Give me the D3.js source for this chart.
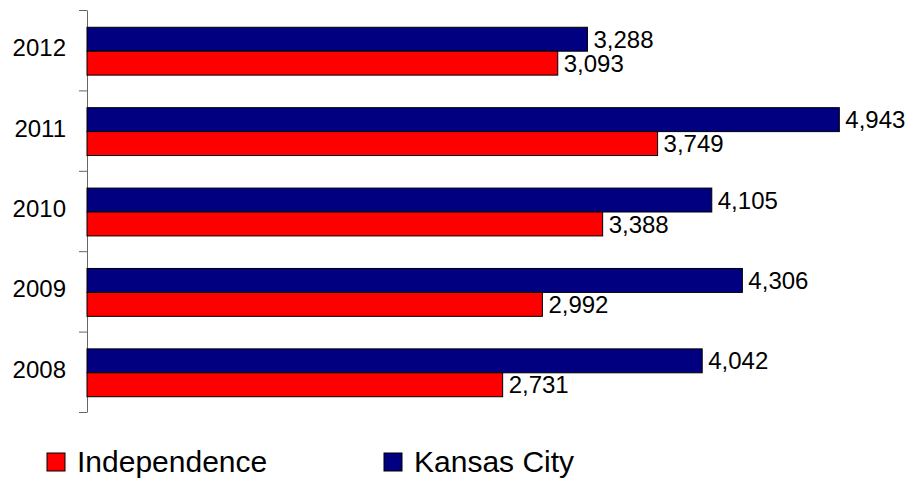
<!DOCTYPE html>
<html>
<head>
<meta charset="utf-8">
<script src="https://cdn.jsdelivr.net/npm/d3@7"></script>
<style>
  body { margin: 0; background: #fff; }
  text { font-family: "Liberation Sans", Arial, sans-serif; fill: #000; }
</style>
</head>
<body>
<svg id="chart" width="910" height="481"></svg>
<script>
const years = ["2012", "2011", "2010", "2009", "2008"];
const seriesNames = ["Kansas City", "Independence"];
const kansasCity = [3288, 4943, 4105, 4306, 4042];
const independence = [3093, 3749, 3388, 2992, 2731];
const colors = { "Kansas City": "#000080", "Independence": "#ff0000" };
const legendOrder = ["Independence", "Kansas City"];

const rows = years.map((y, i) => ({
  year: y,
  values: [
    { name: "Kansas City", value: kansasCity[i] },
    { name: "Independence", value: independence[i] }
  ]
}));

const svg = d3.select("#chart");
const plotTop = 10, plotBottom = 412, plotLeft = 87;

const x = d3.scaleLinear().domain([0, 5000]).range([plotLeft, 848]);
const y0 = d3.scaleBand().domain(years).range([plotTop, plotBottom]).padding(0);
const y1 = d3.scaleBand().domain(seriesNames)
  .range([0, y0.bandwidth()]).paddingInner(0).paddingOuter(0.68);

// axis with ticks at band edges
const edge = d3.scaleLinear().domain([0, years.length]).range([plotTop, plotBottom]);
const axis = svg.append("g")
  .attr("transform", `translate(${plotLeft},0)`)
  .call(d3.axisLeft(edge).tickValues(d3.range(years.length + 1)).tickFormat("").tickSize(8).tickSizeOuter(0));
axis.selectAll("path, line").attr("stroke", "#666").attr("stroke-width", 1);

const groups = svg.selectAll("g.year").data(rows).enter().append("g")
  .attr("class", "year")
  .attr("transform", d => `translate(0,${y0(d.year) + 1})`);

groups.selectAll("rect").data(d => d.values).enter().append("rect")
  .attr("x", x(0))
  .attr("y", d => y1(d.name))
  .attr("width", d => x(d.value) - x(0))
  .attr("height", y1.bandwidth())
  .attr("fill", d => colors[d.name])
  .attr("stroke", "#000")
  .attr("stroke-width", 1);

groups.selectAll("text.val").data(d => d.values).enter().append("text")
  .attr("class", "val")
  .attr("x", d => x(d.value) + 6)
  .attr("y", d => y1(d.name) + y1.bandwidth() / 2)
  .attr("dy", "0.36em")
  .style("font-size", "24px")
  .text(d => d3.format(",")(d.value));

svg.selectAll("text.cat").data(years).enter().append("text")
  .attr("class", "cat")
  .attr("x", 66)
  .attr("y", d => y0(d) + y0.bandwidth() / 2 + 6)
  .attr("text-anchor", "end")
  .style("font-size", "24px")
  .text(d => d);

// legend
const legendX = [47, 384];
const leg = svg.selectAll("g.legend").data(legendOrder).enter().append("g")
  .attr("class", "legend")
  .attr("transform", (d, i) => `translate(${legendX[i]},453)`);
leg.append("rect")
  .attr("width", 18).attr("height", 18)
  .attr("fill", d => colors[d])
  .attr("stroke", "#000").attr("stroke-width", 1);
leg.append("text")
  .attr("x", 30).attr("y", 19)
  .style("font-size", "30px")
  .text(d => d);
</script>
</body>
</html>
